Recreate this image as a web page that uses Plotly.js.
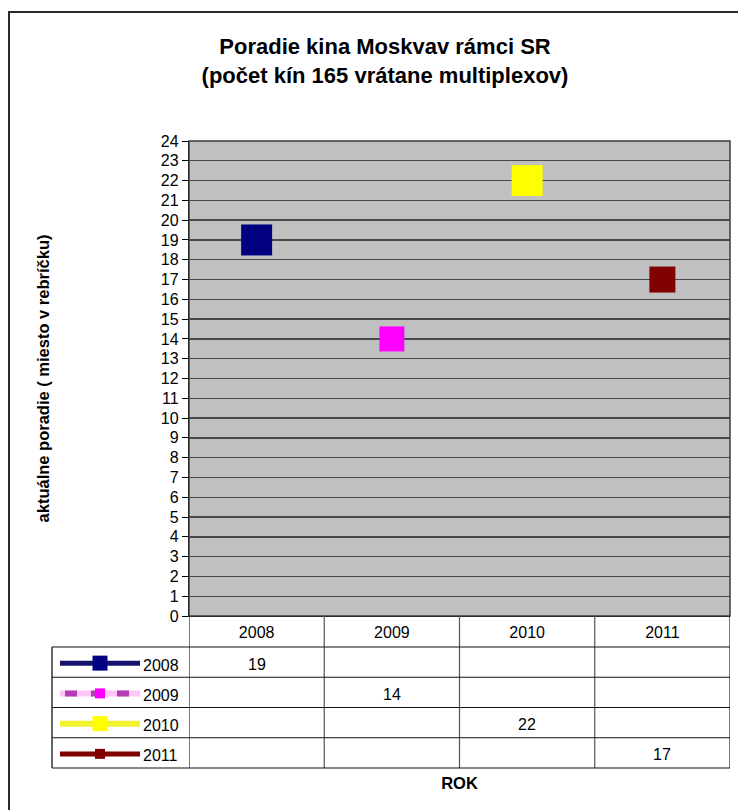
<!DOCTYPE html>
<html>
<head>
<meta charset="utf-8">
<script src="https://cdn.plot.ly/plotly-3.0.1.min.js"></script>
<style>html,body{margin:0;padding:0;background:#fff;}#chart{width:738px;height:810px;}</style>
</head>
<body>
<div id="chart"></div>
<script>
// ---- data ----
var categories = ['2008', '2009', '2010', '2011'];
var seriesNames = ['2008', '2009', '2010', '2011'];
var ranks = [19, 14, 22, 17];
var seriesColors = ['#000080', '#ff00ff', '#ffff00', '#800000'];
var yTickLabels = ['0','1','2','3','4','5','6','7','8','9','10','11','12','13','14','15','16','17','18','19','20','21','22','23','24'];
var titleText = 'Poradie kina Moskvav rámci SR<br>(počet kín 165 vrátane multiplexov)';
var yTitle = 'aktuálne poradie ( miesto v rebríčku)';
var xTitle = 'ROK';

// ---- styles ----
var markerSizes = [31, 25, 31, 26];
var keyMarkerSizes = [15, 10, 15, 10];
var keyLineColors = ['#14146e', '#ffc8f4', '#f2f230', '#800000'];
var keyLineWidths = [5, 6, 6, 5];

var W = 738, H = 810;
var L = 189, R = 730, T = 141, B = 616;
function px(X) { return (X - L) / (R - L); }
function py(Y) { return (B - Y) / (B - T); }

var traces = seriesNames.map(function (name, i) {
  return {
    type: 'scatter', mode: 'markers', name: name,
    x: [categories[i]], y: [ranks[i]],
    marker: { symbol: 'square', size: markerSizes[i], color: seriesColors[i], line: { width: 0 } },
    showlegend: false, hoverinfo: 'x+y+name'
  };
});

var shapes = [];
var annotations = [];
var font = 'Arial, "Liberation Sans", sans-serif';

// table geometry
var headerBottom = 647;
var rowH = 30.25;
var tableBottom = headerBottom + rowH * seriesNames.length;
var tableLeft = 52;

// plot area frame
shapes.push({ type: 'rect', xref: 'paper', yref: 'paper', x0: 0, x1: 1, y0: 0, y1: 1,
  line: { color: '#3a3a3a', width: 1.5 }, layer: 'above' });

// column boundaries of table
for (var c = 0; c <= categories.length; c++) {
  shapes.push({ type: 'line', xref: 'x', yref: 'paper', x0: c - 0.5, x1: c - 0.5,
    y0: py(B), y1: py(tableBottom), line: { color: c === 0 || c === categories.length ? '#222' : '#555', width: 1.2 } });
}
// header bottom and row lines
for (var r = 0; r <= seriesNames.length; r++) {
  var yy = headerBottom + r * rowH;
  shapes.push({ type: 'line', xref: 'paper', yref: 'paper', x0: px(tableLeft), x1: 1,
    y0: py(yy), y1: py(yy), line: { color: '#111', width: 1.2 } });
}
// left border of legend rows
shapes.push({ type: 'line', xref: 'paper', yref: 'paper', x0: px(tableLeft), x1: px(tableLeft),
  y0: py(headerBottom), y1: py(tableBottom), line: { color: '#333', width: 1.5 } });

// rows: legend keys, labels, values
seriesNames.forEach(function (name, i) {
  var cy = headerBottom + rowH * (i + 0.5);
  shapes.push({ type: 'line', xref: 'paper', yref: 'paper', x0: px(60), x1: px(140),
    y0: py(cy + 1), y1: py(cy + 1), line: { color: keyLineColors[i], width: keyLineWidths[i] } });
  if (i === 1) {
    shapes.push({ type: 'line', xref: 'paper', yref: 'paper', x0: px(65), x1: px(140),
      y0: py(cy + 1), y1: py(cy + 1), line: { color: '#b43cb4', width: keyLineWidths[i], dash: '12px,14px' } });
  }
  var h = keyMarkerSizes[i] / 2;
  shapes.push({ type: 'rect', xref: 'paper', yref: 'paper', x0: px(100 - h), x1: px(100 + h),
    y0: py(cy + 1 + h), y1: py(cy + 1 - h), fillcolor: seriesColors[i], line: { width: 0 } });
  annotations.push({ xref: 'paper', yref: 'paper', x: px(141), y: py(cy + 3), xanchor: 'left', yanchor: 'middle',
    text: name, showarrow: false, font: { family: font, size: 16, color: '#000' } });
  // value cell (category index on the x axis)
  annotations.push({ xref: 'x', yref: 'paper', x: categories.indexOf(categories[i]), y: py(cy + 2), xanchor: 'center', yanchor: 'middle',
    text: String(ranks[i]), showarrow: false, font: { family: font, size: 16, color: '#000' } });
});

// outer chart border
shapes.push({ type: 'rect', xref: 'paper', yref: 'paper', x0: px(9), x1: px(760), y0: py(830), y1: py(12),
  line: { color: '#2a2a2a', width: 2 } });

var layout = {
  width: W, height: H,
  margin: { l: L, r: W - R, t: T, b: H - B, pad: 0 },
  paper_bgcolor: '#ffffff', plot_bgcolor: '#c0c0c0',
  font: { family: font, color: '#000' },
  title: { text: titleText, font: { family: font, size: 22, color: '#000', weight: 'bold' },
    x: 385 / W, xref: 'container', xanchor: 'center', y: 1 - 54 / H, yref: 'container', yanchor: 'middle' },
  showlegend: false,
  xaxis: {
    type: 'category', categoryorder: 'array', categoryarray: categories,
    range: [-0.5, categories.length - 0.5],
    showgrid: false, zeroline: false, showline: true, linecolor: '#000', linewidth: 1,
    ticks: '', ticklabelstandoff: 2,
    tickfont: { family: font, size: 16, color: '#000' },
    title: { text: xTitle, font: { family: font, size: 16.5, color: '#000', weight: 'bold' }, standoff: 137 },
    fixedrange: true, automargin: false
  },
  yaxis: {
    range: [0, 24], tickmode: 'array', tickvals: yTickLabels.map(Number), ticktext: yTickLabels,
    showgrid: true, gridcolor: '#4a4a4a', gridwidth: 1.4, zeroline: false,
    showline: true, linecolor: '#000', linewidth: 1.2,
    ticks: 'outside', ticklen: 6, tickcolor: '#000', tickwidth: 1,
    tickfont: { family: font, size: 16, color: '#000' },
    title: { text: yTitle, font: { family: font, size: 16.5, color: '#000', weight: 'bold' }, standoff: 107 },
    fixedrange: true, automargin: false
  },
  shapes: shapes,
  annotations: annotations
};

Plotly.newPlot('chart', traces, layout, { displayModeBar: false, staticPlot: true });
</script>
</body>
</html>
